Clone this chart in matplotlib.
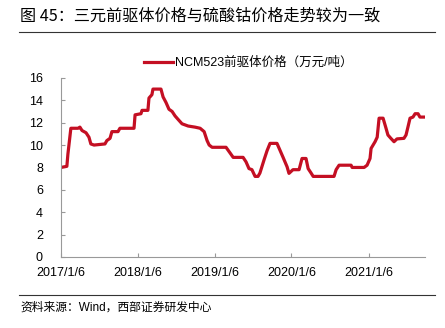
import matplotlib
matplotlib.use("Agg")
import matplotlib.pyplot as plt
import matplotlib.dates as md
import pandas as pd

plt.rcParams['font.family'] = ['Liberation Sans', 'Noto Sans CJK SC', 'DejaVu Sans']

# NCM523 precursor price (10k yuan / t)
dates = ['2017-01-06', '2017-02-03', '2017-02-08', '2017-02-22', '2017-03-28',
         '2017-04-06', '2017-04-16', '2017-05-05', '2017-05-19', '2017-05-28',
         '2017-06-12', '2017-08-03', '2017-08-12', '2017-08-27', '2017-09-05',
         '2017-10-04', '2017-10-13', '2017-12-19', '2017-12-24', '2018-01-21',
         '2018-01-26', '2018-02-23', '2018-02-28', '2018-03-14', '2018-03-19',
         '2018-04-26', '2018-05-06', '2018-05-20', '2018-06-03', '2018-06-18',
         '2018-07-02', '2018-07-16', '2018-08-04', '2018-09-02', '2018-10-05',
         '2018-10-29', '2018-11-17', '2018-12-01', '2018-12-11', '2018-12-25',
         '2019-03-01', '2019-03-20', '2019-04-04', '2019-05-21', '2019-06-04',
         '2019-06-18', '2019-07-02', '2019-07-17', '2019-07-31', '2019-08-09',
         '2019-08-29', '2019-09-12', '2019-09-26', '2019-10-29', '2019-11-12',
         '2019-11-27', '2019-12-16', '2019-12-25', '2020-01-13', '2020-01-27',
         '2020-02-11', '2020-02-25', '2020-03-15', '2020-03-25', '2020-04-08',
         '2020-04-18', '2020-07-26', '2020-08-05', '2020-08-19', '2020-10-15',
         '2020-10-20', '2020-12-16', '2020-12-30', '2021-01-13', '2021-01-18',
         '2021-02-06', '2021-02-16', '2021-02-25', '2021-03-16', '2021-03-30',
         '2021-04-08', '2021-04-22', '2021-05-07', '2021-05-21', '2021-06-23',
         '2021-07-03', '2021-07-12', '2021-07-22', '2021-08-05', '2021-08-15',
         '2021-08-29', '2021-09-07', '2021-10-01']
prices = [8.0, 8.1, 9.2, 11.5, 11.5,
          11.6, 11.3, 11.1, 10.7, 10.1,
          10.0, 10.1, 10.4, 10.6, 11.2,
          11.2, 11.5, 11.5, 12.7, 12.8,
          13.1, 13.1, 14.2, 14.5, 15.0,
          15.0, 14.3, 13.8, 13.2, 13.0,
          12.6, 12.3, 11.9, 11.7, 11.6,
          11.5, 11.2, 10.4, 10.0, 9.8,
          9.8, 9.3, 8.9, 8.9, 8.5,
          7.9, 7.8, 7.2, 7.2, 7.5,
          8.7, 9.5, 10.15, 10.15, 9.55,
          8.9, 8.06, 7.47, 7.8, 7.8,
          7.8, 8.8, 8.8, 7.9, 7.5,
          7.2, 7.2, 7.8, 8.2, 8.2,
          8.0, 8.0, 8.2, 8.8, 9.7,
          10.3, 10.7, 12.4, 12.4, 11.5,
          10.9, 10.6, 10.3, 10.55, 10.6,
          10.9, 11.6, 12.4, 12.5, 12.8,
          12.8, 12.5, 12.5]

tick_dates = ['2017-01-06', '2018-01-06', '2019-01-06', '2020-01-06', '2021-01-06']
tick_labels = ['2017/1/6', '2018/1/6', '2019/1/6', '2020/1/6', '2021/1/6']

x = pd.to_datetime(dates)

fig = plt.figure(figsize=(4.45, 3.28), dpi=100)
ax = fig.add_axes([0.137, 0.2165, 0.818, 0.546])

red = '#c40f23'
ax.plot(x, prices, color=red, lw=2.3, label='NCM523前驱体价格（万元/吨）')

ax.set_ylim(0, 16)
ax.set_yticks(range(0, 17, 2))
ax.set_xlim(pd.Timestamp('2017-01-06'), pd.Timestamp('2021-10-01'))
ax.set_xticks(pd.to_datetime(tick_dates))
ax.set_xticklabels(tick_labels)

for s in ['top', 'right']:
    ax.spines[s].set_visible(False)
for s in ['left', 'bottom']:
    ax.spines[s].set_color('#999999')
    ax.spines[s].set_linewidth(0.8)
ax.tick_params(axis='both', direction='in', length=3, color='#999999',
               labelsize=9, labelcolor='black')
ax.tick_params(axis='y', pad=13)
ax.tick_params(axis='x', pad=7)

leg = ax.legend(loc='lower left', bbox_to_anchor=(0.205, 1.0), frameon=False,
                fontsize=9, handlelength=2.3, handletextpad=0.15,
                borderaxespad=0.3)

# title and source lines
fig.text(0.045, 0.951, '图 45：三元前驱体价格与硫酸钴价格走势较为一致',
         fontsize=11.6, va='center', ha='left',
         family=['Noto Sans CJK SC', 'DejaVu Sans'])
fig.add_artist(plt.Line2D([0.042, 0.978], [0.902, 0.902], color='#333333', lw=0.8))
fig.add_artist(plt.Line2D([0.042, 0.978], [0.101, 0.101], color='#333333', lw=0.8))
fig.text(0.045, 0.061, '资料来源：Wind，西部证券研发中心', fontsize=8.5,
         va='center', ha='left')

fig.savefig('out.png', dpi=100)
